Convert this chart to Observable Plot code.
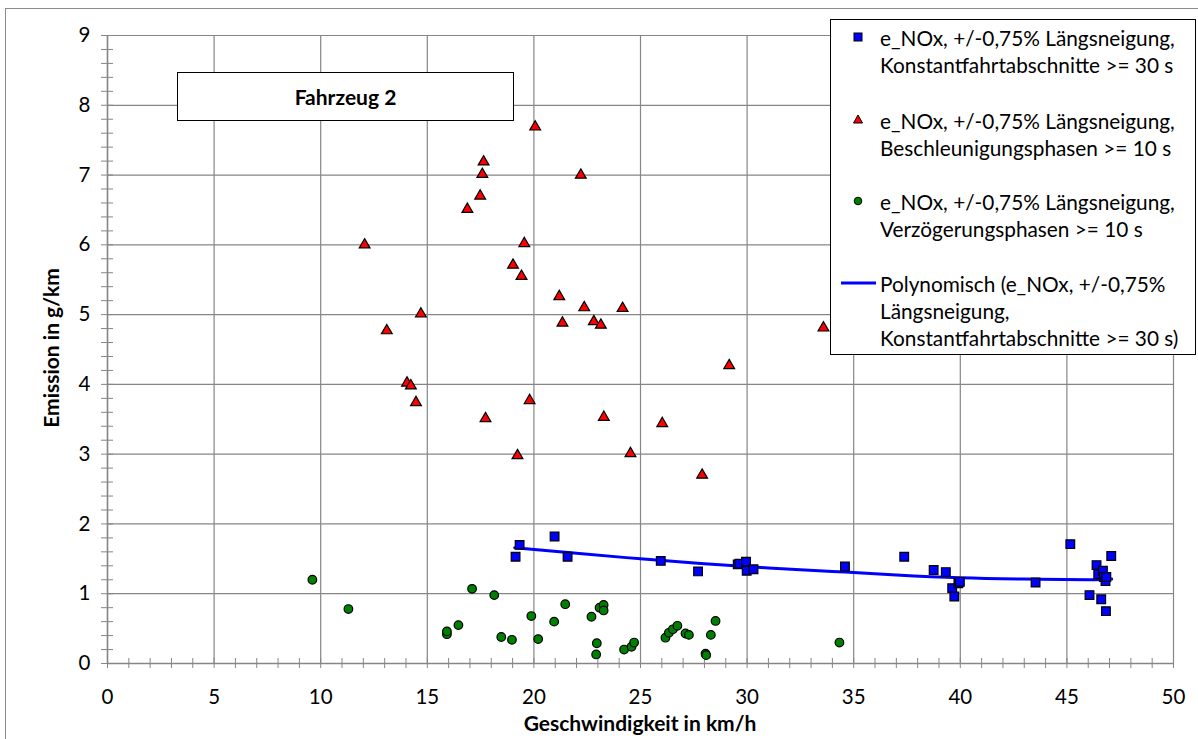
<!DOCTYPE html>
<html>
<head>
<meta charset="utf-8">
<script src="https://cdn.jsdelivr.net/npm/d3@7"></script>
<script src="https://cdn.jsdelivr.net/npm/@observablehq/plot@0.6"></script>
<style>
  body { margin: 0; background: #fff; font-family: Lato, "Open Sans", sans-serif; color: #000; }
  #wrap { position: relative; width: 1198px; height: 739px; overflow: hidden; background: #fff; }
  #frame { position: absolute; left: 5px; top: 8px; width: 1300px; height: 900px; border: 1px solid #8c8c8c; }
  #chart { position: absolute; left: 0; top: 0; }
  .box { position: absolute; background: #fff; border: 1.5px solid #000; box-sizing: border-box; }
  #fz { left: 177px; top: 72px; width: 337px; height: 49px; font-weight: bold; font-size: 21px;
        display: flex; align-items: center; justify-content: center; }
  #legend { left: 830px; top: 19px; width: 366px; height: 336px; }
  .lt { position: absolute; left: 49px; font-size: 20.8px; line-height: 27px; white-space: nowrap; }
  .lm { position: absolute; left: 10px; width: 36px; height: 20px; }
  .ytitle { position: absolute; left: 50px; top: 348px; transform: translate(-50%, -50%) rotate(-90deg);
            font-weight: bold; font-size: 21px; white-space: nowrap; }
  .xtitle { position: absolute; left: 640px; top: 722px; transform: translate(-50%, -50%);
            font-weight: bold; font-size: 21px; white-space: nowrap; }
</style>
</head>
<body>
<div id="wrap">
  <div id="frame"></div>
  <div id="chart"></div>
  <div class="ytitle">Emission in g/km</div>
  <div class="xtitle">Geschwindigkeit in km/h</div>
  <div id="fz" class="box">Fahrzeug 2</div>
  <div id="legend" class="box"></div>
</div>
<script>
// ---- data ----
const squareX = [19.14, 19.33, 20.97, 21.58, 25.95, 27.70, 29.56, 29.64, 29.95, 29.98, 30.30, 34.59, 37.37, 38.75, 39.32, 39.62, 39.72, 39.91, 39.98, 43.53, 45.16, 46.06, 46.39, 46.47, 46.61, 46.69, 46.73, 46.81, 46.83, 46.85, 47.08];
const squareY = [1.53, 1.70, 1.82, 1.53, 1.47, 1.32, 1.42, 1.43, 1.46, 1.33, 1.35, 1.39, 1.53, 1.34, 1.31, 1.08, 0.96, 1.15, 1.17, 1.16, 1.71, 0.98, 1.41, 1.28, 0.92, 1.33, 1.24, 1.18, 0.75, 1.24, 1.54];

const triX = [12.06, 13.10, 14.05, 14.23, 14.47, 14.70, 16.88, 17.48, 17.58, 17.64, 17.73, 19.02, 19.23, 19.42, 19.55, 19.80, 20.06, 21.19, 21.34, 22.20, 22.36, 22.81, 23.14, 23.28, 24.16, 24.53, 26.02, 27.89, 29.16, 33.58];
const triY = [6.00, 4.77, 4.02, 3.98, 3.74, 5.01, 6.51, 6.70, 7.01, 7.19, 3.51, 5.71, 2.98, 5.55, 6.02, 3.77, 7.69, 5.26, 4.88, 7.00, 5.10, 4.90, 4.85, 3.53, 5.09, 3.01, 3.44, 2.70, 4.27, 4.81];

const circX = [9.61, 11.30, 15.92, 15.92, 16.46, 17.10, 18.14, 18.47, 18.97, 19.88, 20.20, 20.95, 21.47, 22.70, 22.92, 22.95, 23.08, 23.27, 23.27, 24.23, 24.58, 24.70, 26.17, 26.33, 26.52, 26.73, 27.11, 27.27, 28.05, 28.08, 28.30, 28.52, 34.33];
const circY = [1.20, 0.78, 0.42, 0.46, 0.55, 1.07, 0.98, 0.38, 0.34, 0.68, 0.35, 0.60, 0.85, 0.67, 0.13, 0.29, 0.80, 0.84, 0.76, 0.20, 0.24, 0.30, 0.37, 0.44, 0.49, 0.54, 0.43, 0.41, 0.14, 0.12, 0.41, 0.61, 0.30];

// polynomial trendline
const trendX = [19.1, 22, 25, 28, 31, 34, 37, 40, 43, 46, 47.1];
const trendY = [1.66, 1.58, 1.50, 1.43, 1.37, 1.32, 1.27, 1.23, 1.21, 1.20, 1.21];

const xMajor = [0, 5, 10, 15, 20, 25, 30, 35, 40, 45, 50];
const xMinor = d3.range(0, 51, 1);
const yMajor = [0, 1, 2, 3, 4, 5, 6, 7, 8, 9];
const yMinor = d3.range(0, 46, 1).map(i => i / 5);

const legendItems = [
  {kind: "square", lines: ["e_NOx, +/-0,75% Längsneigung,", "Konstantfahrtabschnitte >= 30 s"]},
  {kind: "triangle", lines: ["e_NOx, +/-0,75% Längsneigung,", "Beschleunigungsphasen >= 10 s"]},
  {kind: "circle", lines: ["e_NOx, +/-0,75% Längsneigung,", "Verzögerungsphasen >= 10 s"]},
  {kind: "line", lines: ["Polynomisch (e_NOx, +/-0,75%", "Längsneigung,", "Konstantfahrtabschnitte >= 30 s)"]}
];

const squares = squareX.map((x, i) => ({x, y: squareY[i]}));
const tris = triX.map((x, i) => ({x, y: triY[i]}));
const circs = circX.map((x, i) => ({x, y: circY[i]}));
const trend = trendX.map((x, i) => ({x, y: trendY[i]}));

const grey = "#868686";

const chart = Plot.plot({
  width: 1198,
  height: 739,
  marginLeft: 107,
  marginRight: 25,
  marginTop: 35,
  marginBottom: 76,
  style: {fontFamily: "Lato, 'Open Sans', sans-serif", fontSize: "20.5px", color: "#000", background: "transparent"},
  x: {domain: [0, 50]},
  y: {domain: [0, 9]},
  marks: [
    Plot.gridX(xMajor, {stroke: grey, strokeOpacity: 1, strokeWidth: 1.2}),
    Plot.gridY(yMajor, {stroke: grey, strokeOpacity: 1, strokeWidth: 1.2}),
    Plot.axisX(xMinor, {tickSize: 10, dy: -5, tickFormat: () => "", label: null, stroke: grey}),
    Plot.axisY(yMinor, {tickSize: 12, dx: 6, tickFormat: () => "", label: null, stroke: grey}),
    Plot.axisX(xMajor, {tickSize: 0, tickPadding: 26, tickFormat: d => String(d), label: null, fill: "#000"}),
    Plot.axisY(yMajor, {tickSize: 0, tickPadding: 17, tickFormat: d => String(d), label: null, fill: "#000"}),
    Plot.ruleX([0], {stroke: grey, strokeWidth: 1.5}),
    Plot.ruleY([0], {stroke: grey, strokeWidth: 1.5}),
    Plot.line(trend, {x: "x", y: "y", curve: "natural", stroke: "#0000FF", strokeWidth: 3}),
    Plot.dot(circs, {x: "x", y: "y", symbol: "circle", r: 4.3, fill: "#008000", stroke: "#000", strokeWidth: 1.2}),
    Plot.dot(tris, {x: "x", y: "y", symbol: "triangle", r: 4.0, fill: "#FF0000", stroke: "#000", strokeWidth: 1.2}),
    Plot.dot(squares, {x: "x", y: "y", symbol: "square", r: 4.9, fill: "#0000FF", stroke: "#000", strokeWidth: 1.2})
  ]
});
document.getElementById("chart").appendChild(chart);

// ---- legend ----
const legend = d3.select("#legend");
const entryTop = [4, 87, 168, 250];
legendItems.forEach((item, i) => {
  const top = entryTop[i];
  const m = legend.append("svg").attr("class", "lm").style("top", (top + 3) + "px")
    .attr("width", 36).attr("height", 20);
  if (item.kind === "square") {
    m.append("rect").attr("x", 13).attr("y", 6).attr("width", 8).attr("height", 8)
      .attr("fill", "#0000FF").attr("stroke", "#000").attr("stroke-width", 1);
  } else if (item.kind === "triangle") {
    m.append("path").attr("d", "M17,5 L21.5,13 L12.5,13 Z")
      .attr("fill", "#FF0000").attr("stroke", "#000").attr("stroke-width", 1);
  } else if (item.kind === "circle") {
    m.append("circle").attr("cx", 17).attr("cy", 10).attr("r", 3.8)
      .attr("fill", "#008000").attr("stroke", "#000").attr("stroke-width", 1);
  } else {
    m.append("line").attr("x1", 0).attr("x2", 35).attr("y1", 10).attr("y2", 10)
      .attr("stroke", "#0000FF").attr("stroke-width", 3);
  }
  item.lines.forEach((t, j) => {
    legend.append("div").attr("class", "lt").style("top", (top + j * 27) + "px").text(t);
  });
});
</script>
</body>
</html>
